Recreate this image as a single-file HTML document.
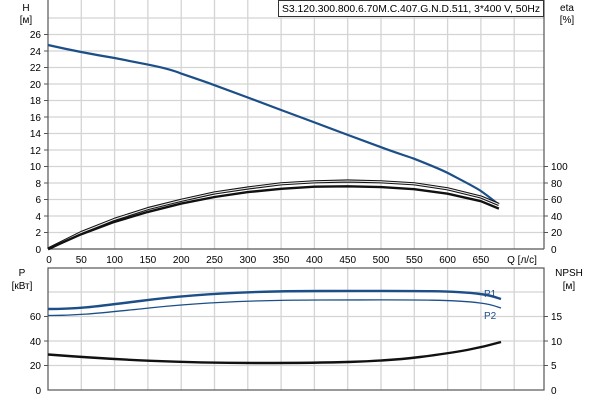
<!DOCTYPE html>
<html><head><meta charset="utf-8"><style>
html,body{margin:0;padding:0;background:#fff;}
svg{display:block;font-family:"Liberation Sans",sans-serif;font-size:10px;}
</style></head><body>
<svg width="600" height="400" viewBox="0 0 600 400" xmlns="http://www.w3.org/2000/svg">
<g stroke="#d4d4d4" stroke-width="1.3">
<line x1="81.3" y1="0" x2="81.3" y2="249"/><line x1="114.6" y1="0" x2="114.6" y2="249"/><line x1="147.9" y1="0" x2="147.9" y2="249"/><line x1="181.2" y1="0" x2="181.2" y2="249"/><line x1="214.5" y1="0" x2="214.5" y2="249"/><line x1="247.8" y1="0" x2="247.8" y2="249"/><line x1="281.1" y1="0" x2="281.1" y2="249"/><line x1="314.4" y1="0" x2="314.4" y2="249"/><line x1="347.7" y1="0" x2="347.7" y2="249"/><line x1="381" y1="0" x2="381" y2="249"/><line x1="414.3" y1="0" x2="414.3" y2="249"/><line x1="447.6" y1="0" x2="447.6" y2="249"/><line x1="480.9" y1="0" x2="480.9" y2="249"/><line x1="514.2" y1="0" x2="514.2" y2="249"/>
<line x1="48" y1="232.5" x2="544" y2="232.5"/><line x1="48" y1="216" x2="544" y2="216"/><line x1="48" y1="199.5" x2="544" y2="199.5"/><line x1="48" y1="183" x2="544" y2="183"/><line x1="48" y1="166.5" x2="544" y2="166.5"/><line x1="48" y1="150" x2="544" y2="150"/><line x1="48" y1="133.5" x2="544" y2="133.5"/><line x1="48" y1="117" x2="544" y2="117"/><line x1="48" y1="100.5" x2="544" y2="100.5"/><line x1="48" y1="84" x2="544" y2="84"/><line x1="48" y1="67.5" x2="544" y2="67.5"/><line x1="48" y1="51" x2="544" y2="51"/><line x1="48" y1="34.5" x2="544" y2="34.5"/><line x1="48" y1="18" x2="544" y2="18"/>
<line x1="81.3" y1="268" x2="81.3" y2="390"/><line x1="114.6" y1="268" x2="114.6" y2="390"/><line x1="147.9" y1="268" x2="147.9" y2="390"/><line x1="181.2" y1="268" x2="181.2" y2="390"/><line x1="214.5" y1="268" x2="214.5" y2="390"/><line x1="247.8" y1="268" x2="247.8" y2="390"/><line x1="281.1" y1="268" x2="281.1" y2="390"/><line x1="314.4" y1="268" x2="314.4" y2="390"/><line x1="347.7" y1="268" x2="347.7" y2="390"/><line x1="381" y1="268" x2="381" y2="390"/><line x1="414.3" y1="268" x2="414.3" y2="390"/><line x1="447.6" y1="268" x2="447.6" y2="390"/><line x1="480.9" y1="268" x2="480.9" y2="390"/><line x1="514.2" y1="268" x2="514.2" y2="390"/>
<line x1="48" y1="365.5" x2="544" y2="365.5"/><line x1="48" y1="341" x2="544" y2="341"/><line x1="48" y1="316.5" x2="544" y2="316.5"/><line x1="48" y1="292" x2="544" y2="292"/>
</g>
<g stroke="#555" stroke-width="1.2" fill="none">
<line x1="48" y1="0" x2="48" y2="249"/><line x1="544" y1="0" x2="544" y2="249"/><line x1="48" y1="249" x2="544" y2="249"/>
<rect x="48" y="268" width="496" height="122"/>
</g>
<g stroke="#555" stroke-width="1">
<line x1="44" y1="232.5" x2="48" y2="232.5"/><line x1="44" y1="216" x2="48" y2="216"/><line x1="44" y1="199.5" x2="48" y2="199.5"/><line x1="44" y1="183" x2="48" y2="183"/><line x1="44" y1="166.5" x2="48" y2="166.5"/><line x1="44" y1="150" x2="48" y2="150"/><line x1="44" y1="133.5" x2="48" y2="133.5"/><line x1="44" y1="117" x2="48" y2="117"/><line x1="44" y1="100.5" x2="48" y2="100.5"/><line x1="44" y1="84" x2="48" y2="84"/><line x1="44" y1="67.5" x2="48" y2="67.5"/><line x1="44" y1="51" x2="48" y2="51"/><line x1="44" y1="34.5" x2="48" y2="34.5"/>
<line x1="544" y1="232.5" x2="548" y2="232.5"/><line x1="544" y1="216" x2="548" y2="216"/><line x1="544" y1="199.5" x2="548" y2="199.5"/><line x1="544" y1="183" x2="548" y2="183"/><line x1="544" y1="166.5" x2="548" y2="166.5"/>
<line x1="44" y1="365.5" x2="48" y2="365.5"/><line x1="44" y1="341" x2="48" y2="341"/><line x1="44" y1="316.5" x2="48" y2="316.5"/><line x1="544" y1="365.5" x2="548" y2="365.5"/><line x1="544" y1="341" x2="548" y2="341"/><line x1="544" y1="316.5" x2="548" y2="316.5"/>
</g>
<g text-anchor="end" fill="#000">
<text x="41" y="253">0</text><text x="41" y="236">2</text><text x="41" y="220">4</text><text x="41" y="203">6</text><text x="41" y="187">8</text><text x="41" y="170">10</text><text x="41" y="154">12</text><text x="41" y="137">14</text><text x="41" y="121">16</text><text x="41" y="104">18</text><text x="41" y="88">20</text><text x="41" y="71">22</text><text x="41" y="55">24</text><text x="41" y="38">26</text>
<text x="41" y="394">0</text><text x="41" y="369">20</text><text x="41" y="345">40</text><text x="41" y="320">60</text>
</g>
<g fill="#000">
<text x="551" y="253">0</text><text x="551" y="236">20</text><text x="551" y="220">40</text><text x="551" y="203">60</text><text x="551" y="187">80</text><text x="551" y="170">100</text>
<text x="551" y="394">0</text><text x="551" y="369">5</text><text x="551" y="345">10</text><text x="551" y="320">15</text>
</g>
<g text-anchor="middle" fill="#000">
<text x="26" y="11">H</text><text x="26" y="23">[м]</text>
<text x="567" y="11">eta</text><text x="567" y="23">[%]</text>
<text x="22" y="276">P</text><text x="22" y="289">[кВт]</text>
<text x="569" y="276">NPSH</text><text x="569" y="289">[м]</text>
<text x="49" y="263">0</text><text x="81.3" y="263">50</text><text x="114.6" y="263">100</text><text x="147.9" y="263">150</text><text x="181.2" y="263">200</text><text x="214.5" y="263">250</text><text x="247.8" y="263">300</text><text x="281.1" y="263">350</text><text x="314.4" y="263">400</text><text x="347.7" y="263">450</text><text x="381" y="263">500</text><text x="414.3" y="263">550</text><text x="447.6" y="263">600</text><text x="480.9" y="263">650</text>
<text x="522" y="263">Q [л/с]</text>
</g>
<rect x="278.5" y="0.5" width="265" height="16" fill="#fff" stroke="#333"/>
<text x="282" y="12" fill="#000" textLength="258" lengthAdjust="spacingAndGlyphs">S3.120.300.800.6.70M.C.407.G.N.D.511, 3*400 V, 50Hz</text>
<path d="M48,45 C70,50 90,54 114.6,58 C130,61 140,63 147.9,64.6 C165,68 175,71 181.2,73.6 C200,80 210,83.5 214.5,85.2 L247.8,97.5 L281.1,110 L314.4,122.4 L347.7,134.9 L381,147.2 C395,152.5 405,155.5 414.3,158.8 C430,165 440,169 447.6,172.9 C465,182 475,187 480.9,191 C488,196 493,200 497.5,203.5" fill="none" stroke="#1c4f88" stroke-width="2.2" stroke-linejoin="round"/>
<polyline points="48,249 81.3,232.5 114.6,219.3 147.9,208.6 181.2,200.3 214.5,192.9 247.8,188 281.1,183.8 314.4,181.8 347.7,181 381,181.8 414.3,183.8 447.6,188.8 480.9,197 498.9,204.5" fill="none" stroke="#111" stroke-width="3.2" stroke-linejoin="round"/>
<polyline points="48,249 81.3,232.5 114.6,219.3 147.9,208.6 181.2,200.3 214.5,192.9 247.8,188 281.1,183.8 314.4,181.8 347.7,181 381,181.8 414.3,183.8 447.6,188.8 480.9,197 498.9,204.5" fill="none" stroke="#e8e8e8" stroke-width="1.1" stroke-linejoin="round"/>
<polyline points="48,249 81.3,234.2 114.6,221.8 147.9,211.9 181.2,203.6 214.5,197 247.8,192.1 281.1,188.8 314.4,186.7 347.7,186.3 381,187.1 414.3,189.2 447.6,193.7 480.9,201.2 498.9,208.6" fill="none" stroke="#111" stroke-width="2.4" stroke-linejoin="round"/>
<path d="M48,309 C80,309 100,306 140,301 C200,293 260,291 320,291 C400,291 450,290 480,294 C490,295 495,297 501,299" fill="none" stroke="#1c4f88" stroke-width="2.4"/>
<path d="M48,315.5 C80,315.5 100,313 140,309 C200,302 260,300 320,300 C400,300 450,299 480,303 C490,304 495,306 501,308" fill="none" stroke="#1c4f88" stroke-width="1.3"/>
<text x="484" y="297" fill="#1c4f88">P1</text>
<text x="484" y="319" fill="#1c4f88">P2</text>
<path d="M48,354.5 C120,360 180,363 260,363 C330,363 380,362 420,357 C460,352 480,348 501,342" fill="none" stroke="#111" stroke-width="2.4"/>
</svg>
</body></html>
